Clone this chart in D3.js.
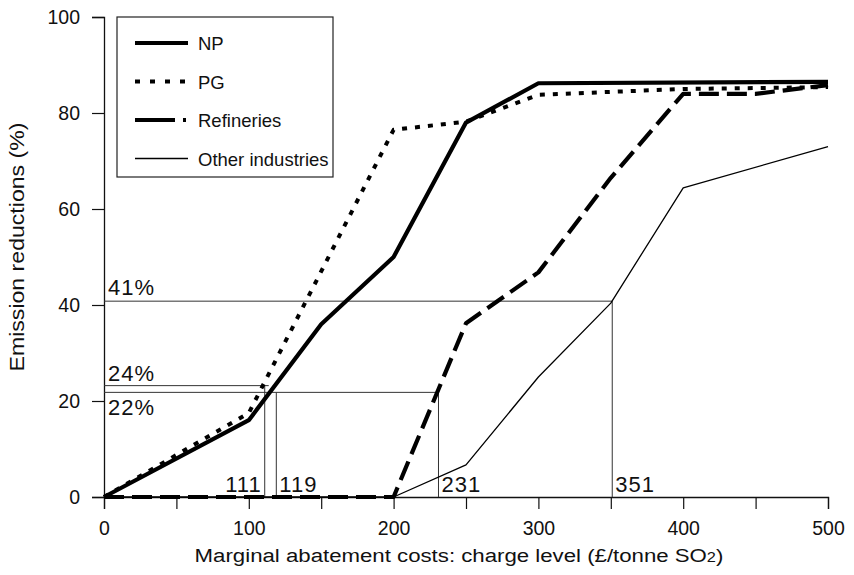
<!DOCTYPE html>
<html>
<head>
<meta charset="utf-8">
<script src="https://cdn.jsdelivr.net/npm/d3@7"></script>
<style>
  body { margin: 0; background: #fff; }
  svg { font-family: "Liberation Sans", Arial, sans-serif; }
</style>
</head>
<body>
<svg id="chart" width="854" height="575"></svg>
<script>
// data
const npData = [[0, 0], [100, 16], [150, 36], [200, 50], [250, 78], [300, 86.2], [500, 86.5]];
const pgData = [[0, 0], [100, 17.5], [200, 76.5], [250, 78.2], [300, 83.8], [400, 85], [500, 85.4]];
const refData = [[0, 0], [200, 0], [250, 36.2], [300, 46.8], [350, 66.5], [400, 84], [450, 84], [500, 85.8]];
const otherData = [[0, 0], [200, 0], [250, 6.7], [300, 25], [350, 40.4], [400, 64.4], [500, 73]];

const seriesNames = ["NP", "PG", "Refineries", "Other industries"];
const xTicks = [0, 50, 100, 150, 200, 250, 300, 350, 400, 450, 500];
const yTicks = [0, 20, 40, 60, 80, 100];

// reading guides: where each curve crosses its level
const guideX = [111, 119, 231, 351];
const guideY = [23.2, 21.8, 21.8, 40.8];
const guideYLabels = ["24%", "22%", null, "41%"];

var svg = d3.select("#chart"),
    margin = { top: 17, left: 104, bottom: 78, right: 26 },
    width = +svg.attr("width"),
    height = +svg.attr("height");

var x = d3.scaleLinear().domain([0, 500]).range([margin.left, width - margin.right]);
var y = d3.scaleLinear().domain([0, 100]).range([height - margin.bottom, margin.top]);

// axes
var xAxis = svg.append("g")
    .attr("transform", `translate(0,${y(0)})`)
    .call(d3.axisBottom(x).tickValues(xTicks).tickSize(12).tickPadding(12)
        .tickFormat(d => d % 100 === 0 ? d : ""));
var yAxis = svg.append("g")
    .attr("transform", `translate(${x(0)},0)`)
    .call(d3.axisLeft(y).tickValues(yTicks).tickSize(12).tickPadding(12));

svg.selectAll(".domain").attr("stroke", "#111").attr("stroke-width", 1.3);
svg.selectAll(".tick line").attr("stroke", "#111").attr("stroke-width", 1.2);
svg.selectAll(".tick text").attr("font-size", 19.5).attr("fill", "#111")
    .attr("font-family", "Liberation Sans, Arial, sans-serif");

// axis titles
var xt = svg.append("g")
    .attr("transform", "translate(459,562) scale(1.17,1)")
    .append("text")
    .attr("text-anchor", "middle")
    .attr("font-size", 19)
    .attr("fill", "#111");
xt.append("tspan").text("Marginal abatement costs: charge level (£/tonne SO");
xt.append("tspan").attr("font-size", 14).text("2");
xt.append("tspan").text(")");

svg.append("g")
    .attr("transform", `translate(24,${(y(0) + y(100)) / 2 - 10}) rotate(-90) scale(1.1,1)`)
    .append("text")
    .attr("text-anchor", "middle")
    .attr("font-size", 21)
    .attr("fill", "#111")
    .text("Emission reductions (%)");

// guide lines
var guides = svg.append("g").attr("stroke", "#333").attr("stroke-width", 1).attr("fill", "none");
guideX.forEach((gx, i) => {
    guides.append("line")
        .attr("x1", x(gx)).attr("x2", x(gx))
        .attr("y1", y(0)).attr("y2", y(guideY[i]));
});
// horizontals: 24% to 111, 22% to 231, 41% to 351
[[0, guideY[0]], [2, guideY[2]], [3, guideY[3]]].forEach(([i, gy]) => {
    guides.append("line")
        .attr("x1", x(0)).attr("x2", x(guideX[i]) + (i === 0 ? 4 : 0))
        .attr("y1", y(gy)).attr("y2", y(gy));
});

// guide labels
var lab = svg.append("g").attr("font-size", 22).attr("fill", "#111").attr("letter-spacing", 1);
lab.append("text").attr("x", x(0) + 4).attr("y", y(guideY[3]) - 6).text(guideYLabels[3]);
lab.append("text").attr("x", x(0) + 4).attr("y", y(guideY[0]) - 5).text(guideYLabels[0]);
lab.append("text").attr("x", x(0) + 4).attr("y", y(guideY[1]) + 23).text(guideYLabels[1]);
lab.append("text").attr("x", x(guideX[0]) - 3).attr("y", y(0) - 5).attr("text-anchor", "end").text(guideX[0]);
[1, 2, 3].forEach(i => {
    lab.append("text").attr("x", x(guideX[i]) + 3).attr("y", y(0) - 5).text(guideX[i]);
});

// series
var line = d3.line().x(d => x(d[0])).y(d => y(d[1]));
const styles = [
    { data: npData, w: 4.2, dash: null },
    { data: pgData, w: 4, dash: "5,8" },
    { data: refData, w: 4.2, dash: "20,8" },
    { data: otherData, w: 1.3, dash: null }
];
styles.slice().reverse().forEach(s => {
    svg.append("path")
        .datum(s.data)
        .attr("d", line)
        .attr("fill", "none")
        .attr("stroke", "#000")
        .attr("stroke-width", s.w)
        .attr("stroke-dasharray", s.dash)
        .attr("stroke-linejoin", "round");
});

// legend
var legend = svg.append("g");
legend.append("rect")
    .attr("x", 117).attr("y", 17)
    .attr("width", 216).attr("height", 160)
    .attr("fill", "#fff").attr("stroke", "#222").attr("stroke-width", 1.2);

const legendDash = ["none", "5,10", "40,8,3,20", "none"];
seriesNames.forEach((name, i) => {
    var ly = 43 + i * 38.5;
    legend.append("line")
        .attr("x1", 135).attr("x2", 188)
        .attr("y1", ly).attr("y2", ly)
        .attr("stroke", "#000")
        .attr("stroke-width", styles[i].w)
        .attr("stroke-dasharray", legendDash[i]);
    legend.append("text")
        .attr("x", 198).attr("y", ly + 7)
        .attr("font-size", 18.5)
        .attr("fill", "#111")
        .text(name);
});
</script>
</body>
</html>
